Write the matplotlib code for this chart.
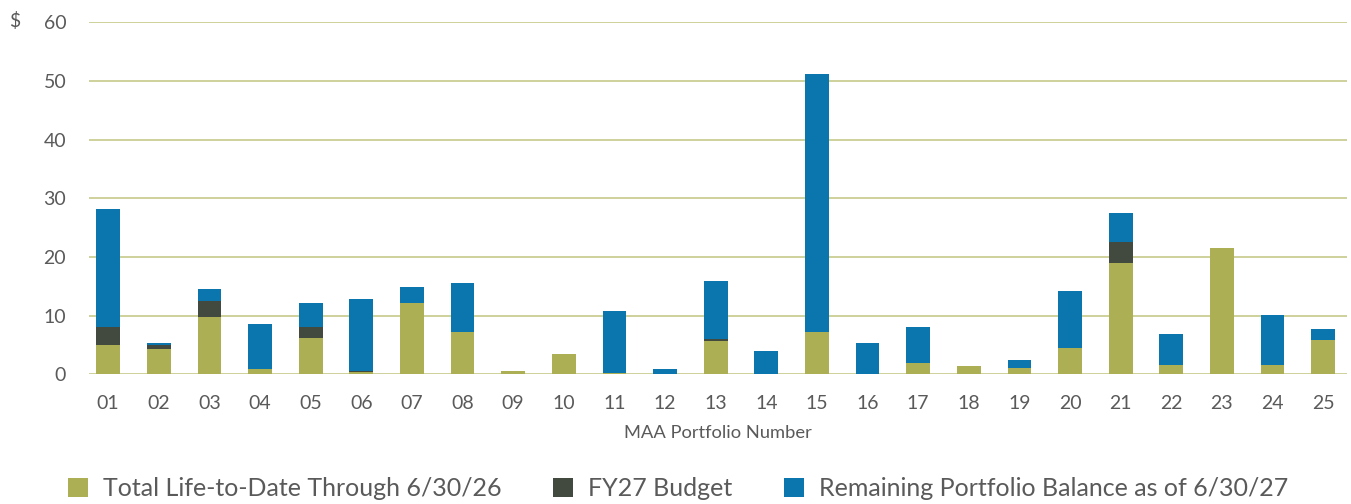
import matplotlib.pyplot as plt
import numpy as np

plt.rcParams['font.family'] = ['Lato', 'DejaVu Sans']

portfolios = ['01', '02', '03', '04', '05', '06', '07', '08', '09', '10', '11', '12', '13',
              '14', '15', '16', '17', '18', '19', '20', '21', '22', '23', '24', '25']
life_to_date = [5.0, 4.3, 9.8, 0.9, 6.2, 0.45, 12.2, 7.2, 0.55, 3.5, 0.25, 0.0, 5.7,
                0.0, 7.2, 0.0, 1.9, 1.4, 1.1, 4.5, 19.0, 1.6, 21.5, 1.6, 5.85]
fy27_budget = [3.1, 0.7, 2.7, 0.0, 1.9, 0.15, 0.0, 0.0, 0.0, 0.0, 0.0, 0.0, 0.35,
               0.0, 0.0, 0.0, 0.0, 0.0, 0.0, 0.0, 3.6, 0.0, 0.0, 0.0, 0.0]
remaining = [20.1, 0.35, 2.05, 7.7, 4.1, 12.2, 2.7, 8.4, 0.0, 0.0, 10.55, 0.9, 9.9,
             4.0, 44.0, 5.35, 6.15, 0.0, 1.35, 9.7, 4.9, 5.3, 0.0, 8.5, 1.9]
labels = ['Total Life-to-Date Through 6/30/26', 'FY27 Budget',
          'Remaining Portfolio Balance as of 6/30/27']

green = '#adaf55'
dark = '#424a3f'
blue = '#0b75ad'
grid_col = '#c6c98a'
text_col = '#5a5a5a'

x = np.arange(len(portfolios))
ltd = np.array(life_to_date)
bud = np.array(fy27_budget)
rem = np.array(remaining)

fig = plt.figure(figsize=(13.51, 5.04), dpi=100)
ax = fig.add_axes([0.066, 0.2573, 0.931, 0.6984])

w = 0.47
ax.bar(x, ltd, w, color=green, label=labels[0], zorder=3)
ax.bar(x, bud, w, bottom=ltd, color=dark, label=labels[1], zorder=3)
ax.bar(x, rem, w, bottom=ltd + bud, color=blue, label=labels[2], zorder=3)

ax.set_ylim(0, 60)
ax.set_xlim(-0.375, 24.47)
ax.set_yticks(range(0, 61, 10))
ax.yaxis.grid(True, color=grid_col, linewidth=1.2, zorder=0)
for s in ax.spines.values():
    s.set_visible(False)
ax.tick_params(length=0, labelsize=14, colors=text_col)
ax.tick_params(axis='y', pad=16.5)
ax.tick_params(axis='x', pad=15)
ax.set_xticks(x)
ax.set_xticklabels(portfolios)
ax.set_xlabel('MAA Portfolio Number', fontsize=13.2, color=text_col, labelpad=9)

fig.text(0.007, 0.959, '$', fontsize=14, color=text_col, va='center')

fig.legend(loc='center', bbox_to_anchor=(0.502, 0.03), ncol=3, frameon=False,
           fontsize=18.0, labelcolor=text_col, handlelength=0.8, handleheight=0.8,
           handletextpad=0.6, columnspacing=2.05)

fig.savefig('out.png', dpi=100)
